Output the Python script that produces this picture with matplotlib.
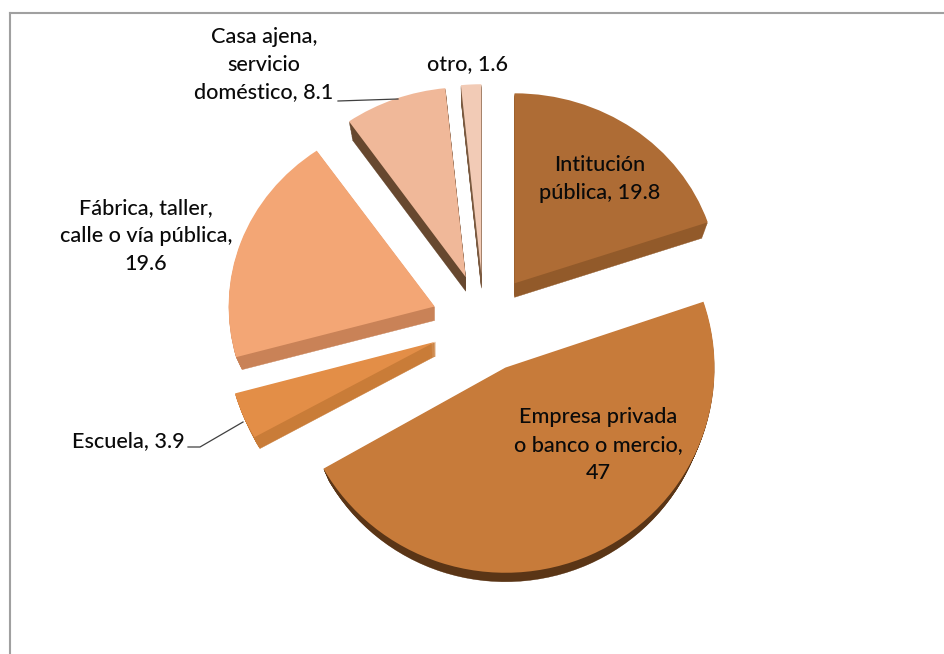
"""Exploded pseudo-3D pie: place of work by category."""

import matplotlib
matplotlib.use("Agg")
import matplotlib.pyplot as plt
from matplotlib.lines import Line2D
from matplotlib.patches import Wedge
from matplotlib.transforms import Affine2D

plt.rcParams["font.family"] = ["Lato", "DejaVu Sans"]

# chart data
categories = ["Intitución pública", "Empresa privada o banco o mercio", "Escuela",
              "Fábrica, taller, calle o vía pública",
              "Casa ajena, servicio doméstico", "otro"]
values = [19.8, 47, 3.9, 19.6, 8.1, 1.6]

top_colors = ["#AE6C35", "#C77B3A", "#E38E47", "#F3A675", "#F0B899", "#F2CBB6"]
side_colors = ["#925A2A", "#5A3516", "#C97C38", "#C98257", "#67482F", "#7A5A40"]

# the front slice is drawn bigger by the perspective
scale_x = [1.0, 1.025, 1.02, 1.01, 1.0, 1.0]
scale_y = [1.0, 1.08, 1.02, 1.0, 1.0, 1.0]

# parameters for graph
WIDTH = 945
HEIGHT = 654
DPI = 100
CENTER_X = 484
CENTER_Y = 323
RADIUS_X = 204
RADIUS_Y = 190
EXPLODE = 0.257
SIDE_DEPTH = 14
SIDE_SHRINK = 0.03
FONT_SIZE = 15.6
BORDER = "#A0A0A0"


def fig_text(fig, x, y, text):
    """Write a centered label at pixel position of the picture."""
    fig.text(x / WIDTH, 1 - y / HEIGHT, text, ha="center", va="center",
             fontsize=FONT_SIZE, fontweight="medium", color="#0A0A0A", linespacing=1.47)


def fig_line(fig, xs, ys, color, width):
    """Draw a line given in pixel positions of the picture."""
    fig.add_artist(Line2D([x / WIDTH for x in xs], [1 - y / HEIGHT for y in ys],
                          color=color, lw=width))


def slice_transform(ax, center, sx, sy):
    """Stretch a slice around its own apex."""
    return (Affine2D().translate(-center[0], -center[1]).scale(sx, sy)
            .translate(center[0], center[1]) + ax.transData)


def draw_pie(ax):
    """Draw the top faces with pie, then the sides below them."""
    wedges, _ = ax.pie(values, explode=[EXPLODE] * len(values), startangle=90,
                       counterclock=False, colors=top_colors,
                       wedgeprops={"linewidth": 0})
    for i, wedge in enumerate(wedges):
        wedge.set_zorder(3)
        transform = slice_transform(ax, wedge.center, scale_x[i], scale_y[i])
        wedge.set_transform(transform)
        # the lower face is a bit smaller, it lies further from the viewer
        for step in range(1, SIDE_DEPTH + 1):
            radius = wedge.r * (1 - SIDE_SHRINK * step / SIDE_DEPTH)
            side = Wedge((wedge.center[0], wedge.center[1] - step / RADIUS_Y), radius,
                         wedge.theta1, wedge.theta2, facecolor=side_colors[i],
                         edgecolor=side_colors[i], linewidth=0.3, zorder=2)
            ax.add_patch(side)
            side.set_transform(transform)


def main():
    fig = plt.figure(figsize=(WIDTH / DPI, HEIGHT / DPI), dpi=DPI)
    ax = fig.add_axes([0, 0, 1, 1])
    draw_pie(ax)

    # the limits map one pie radius to the pixel radius of the ellipse
    ax.set_aspect("auto")
    ax.set_xlim(-CENTER_X / RADIUS_X, (WIDTH - CENTER_X) / RADIUS_X)
    ax.set_ylim((CENTER_Y - HEIGHT) / RADIUS_Y, CENTER_Y / RADIUS_Y)
    ax.axis("off")

    # chart frame, only top and left are inside the picture
    fig_line(fig, [10, 10], [HEIGHT, 13], BORDER, 1.5)
    fig_line(fig, [10, WIDTH], [13, 13], BORDER, 1.5)

    # leader lines
    fig_line(fig, [338, 398], [101, 99], "#404040", 0.9)
    fig_line(fig, [188, 200, 243], [447, 447, 422], "#404040", 0.9)

    fig_text(fig, 600, 179, "Intitución\npública, 19.8")
    fig_text(fig, 598, 445, "Empresa privada\no banco o mercio,\n47")
    fig_text(fig, 128, 441, "Escuela, 3.9")
    fig_text(fig, 146, 236, "Fábrica, taller,\ncalle o vía pública,\n19.6")
    fig_text(fig, 264, 65, "Casa ajena,\nservicio\ndoméstico, 8.1")
    fig_text(fig, 468, 64, "otro, 1.6")

    fig.savefig("out.png", dpi=DPI)
    plt.close(fig)


if __name__ == "__main__":
    main()
